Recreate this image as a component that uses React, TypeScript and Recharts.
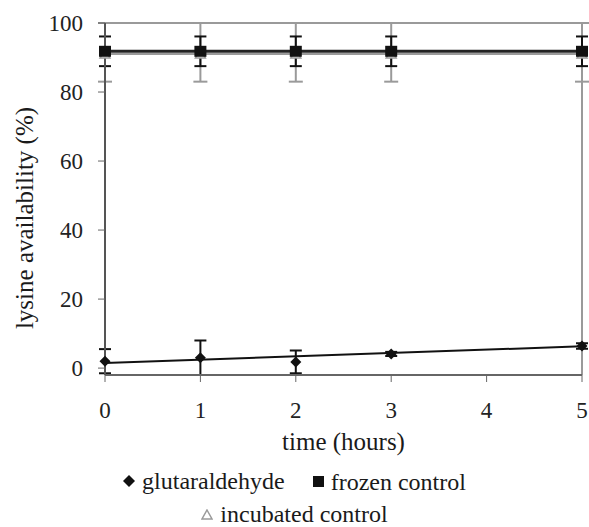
import { ComposedChart, Line, XAxis, YAxis, ErrorBar, ReferenceLine, Legend } from 'recharts';

const times = [0, 1, 2, 3, 5];
const glutaraldehyde = [2.0, 3.0, 1.8, 4.1, 6.4];
const glutaraldehydeErr = [3.5, 5.0, 3.3, 0.6, 0.8];
const frozenControl = [91.8, 91.8, 91.8, 91.8, 91.8];
const frozenErr = [4.3, 4.3, 4.3, 4.3, 4.3];
const incubatedControl = [91.0, 91.0, 91.0, 91.0, 91.0];
const incubatedErrLow = [8, 8, 8, 8, 8];
const incubatedErrHigh = [9, 9, 9, 9, 9];
const trendTimes = [0, 5];
const trendValues = [1.5, 6.3];
const xTicks = [0, 1, 2, 3, 4, 5];
const yTicks = [0, 20, 40, 60, 80, 100];

const FONT = "'Liberation Serif', Tinos, 'DejaVu Serif', serif";
const GRAY = '#9a9a9a';

const chartData = [
  ...times.map((t, i) => ({
    t,
    glu: glutaraldehyde[i],
    gluErr: glutaraldehydeErr[i],
    frozen: frozenControl[i],
    frozenErr: frozenErr[i],
    incub: incubatedControl[i],
    incubErr: [incubatedErrLow[i], incubatedErrHigh[i]],
    trend: null as number | null,
  })),
  ...trendTimes.map((t, i) => ({ t, trend: trendValues[i] })),
].sort((a, b) => a.t - b.t);

const Diamond = (props: any) => {
  const { cx, cy } = props;
  if (cx == null || cy == null) return null;
  const r = 5.5;
  return <path d={`M${cx},${cy - r}L${cx + r},${cy}L${cx},${cy + r}L${cx - r},${cy}Z`} fill="#111" />;
};

const Square = (props: any) => {
  const { cx, cy } = props;
  if (cx == null || cy == null) return null;
  return <rect x={cx - 6} y={cy - 5.5} width={12} height={11} fill="#111" />;
};

const Triangle = (props: any) => {
  const { cx, cy } = props;
  if (cx == null || cy == null) return null;
  return <path d={`M${cx},${cy - 5}L${cx + 5},${cy + 4}L${cx - 5},${cy + 4}Z`} fill="#fff" stroke={GRAY} strokeWidth={1.5} />;
};

function LegendContent() {
  const item = (icon: React.ReactNode, label: string) => (
    <span style={{ display: 'inline-flex', alignItems: 'center', margin: '0 14px' }}>
      {icon}
      <span style={{ marginLeft: 7 }}>{label}</span>
    </span>
  );
  return (
    <div style={{ fontFamily: FONT, fontSize: 24, color: '#1a1a1a', textAlign: 'center', lineHeight: '30px' }}>
      <div>
        {item(<svg width={12} height={12}><path d="M6,0L12,6L6,12L0,6Z" fill="#111" /></svg>, 'glutaraldehyde')}
        {item(<svg width={11} height={11}><rect width={11} height={11} fill="#111" /></svg>, 'frozen control')}
      </div>
      <div>
        {item(<svg width={12} height={11}><path d="M6,1L11,10L1,10Z" fill="#fff" stroke={GRAY} strokeWidth={1.5} /></svg>, 'incubated control')}
      </div>
    </div>
  );
}

export default function App() {
  return (
    <div style={{ position: 'absolute', left: 0, top: 0, background: '#fff', fontFamily: FONT }}>
      <ComposedChart width={589} height={527} data={chartData} margin={{ top: 23, right: 7, bottom: 0, left: 0 }}>
        <XAxis
          dataKey="t"
          type="number"
          domain={[0, 5]}
          ticks={xTicks}
          interval={0}
          tick={{ fontSize: 23, fill: '#222', fontFamily: FONT }}
          tickSize={7}
          tickMargin={20}
          axisLine={{ stroke: '#666', strokeWidth: 2 }}
          tickLine={{ stroke: '#666' }}
          height={152}
          label={{ value: 'time (hours)', position: 'insideTop', dy: 52, fontSize: 25, fill: '#1a1a1a', fontFamily: FONT }}
        />
        <YAxis
          type="number"
          domain={[0, 100]}
          ticks={yTicks}
          interval={0}
          tick={{ fontSize: 23, fill: '#222', fontFamily: FONT }}
          tickSize={7}
          tickMargin={15}
          axisLine={{ stroke: '#555', strokeWidth: 2 }}
          tickLine={{ stroke: '#666' }}
          width={105}
        />
        <ReferenceLine y={100} stroke={GRAY} strokeWidth={2} />
        <ReferenceLine x={5} stroke={GRAY} strokeWidth={2} />
        <Line
          dataKey="incub"
          stroke={GRAY}
          strokeWidth={2}
          dot={<Triangle />}
          connectNulls
          isAnimationActive={false}
        >
          <ErrorBar dataKey="incubErr" width={7} stroke={GRAY} strokeWidth={2} direction="y" />
        </Line>
        <Line
          dataKey="frozen"
          stroke="#222"
          strokeWidth={3}
          dot={<Square />}
          connectNulls
          isAnimationActive={false}
        >
          <ErrorBar dataKey="frozenErr" width={6} stroke="#111" strokeWidth={2} direction="y" />
        </Line>
        <Line
          dataKey="trend"
          stroke="#111"
          strokeWidth={2}
          dot={false}
          connectNulls
          isAnimationActive={false}
        />
        <Line
          dataKey="glu"
          stroke="none"
          dot={<Diamond />}
          connectNulls
          isAnimationActive={false}
        >
          <ErrorBar dataKey="gluErr" width={6} stroke="#111" strokeWidth={2} direction="y" />
        </Line>
        <Legend
          layout="vertical"
          verticalAlign="middle"
          align="center"
          content={<LegendContent />}
          wrapperStyle={{ position: 'absolute', left: 0, top: 464, width: 589 }}
        />
      </ComposedChart>
      <svg style={{ position: 'absolute', left: 0, top: 0, pointerEvents: 'none' }} width={589} height={527}>
        <text
          x={24}
          y={218}
          transform="rotate(-90 24 218)"
          textAnchor="middle"
          dominantBaseline="central"
          fontFamily={FONT}
          fontSize={25}
          fill="#1a1a1a"
        >
          lysine availability (%)
        </text>
      </svg>
    </div>
  );
}
